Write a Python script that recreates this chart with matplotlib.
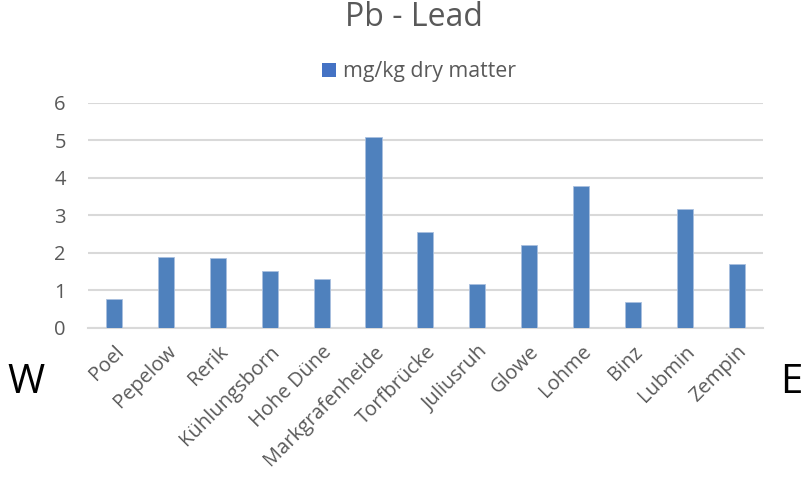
import matplotlib.pyplot as plt
from matplotlib.patches import Patch

# Standorte von West nach Ost
sites = ['Poel', 'Pepelow', 'Rerik', 'Kühlungsborn', 'Hohe Düne', 'Markgrafenheide',
         'Torfbrücke', 'Juliusruh', 'Glowe', 'Lohme', 'Binz', 'Lubmin', 'Zempin']
lead = [0.78, 1.88, 1.85, 1.51, 1.30, 5.08, 2.55, 1.18, 2.20, 3.78, 0.68, 3.18, 1.70]
yticks = [0, 1, 2, 3, 4, 5, 6]

bar_color = '#4f81bd'
text_grey = '#595959'
plt.rcParams['font.family'] = ['Open Sans', 'DejaVu Sans']

fig = plt.figure(figsize=(8.03, 4.8), dpi=100)
ax = fig.add_axes([0.1096, 0.317, 0.8404, 0.469])

x = range(len(sites))
ax.bar(x, lead, width=0.31, color=bar_color, edgecolor='#a9c0df', linewidth=0.6, zorder=3)

ax.set_xlim(-0.5, len(sites) - 0.5)
ax.set_ylim(0, 6)
ax.set_yticks(yticks)
ax.set_yticklabels([str(t) for t in yticks], fontsize=14.5, color=text_grey)
ax.yaxis.grid(True, color='#d9d9d9', linewidth=1.5, zorder=0)
ax.tick_params(axis='both', length=0)
ax.tick_params(axis='y', pad=16)

ax.set_xticks(list(x))
ax.set_xticklabels(sites, rotation=45, ha='right', rotation_mode='anchor',
                   fontsize=14.5, color=text_grey)
ax.tick_params(axis='x', pad=10)

for s in ['top', 'right', 'left']:
    ax.spines[s].set_visible(False)
ax.spines['bottom'].set_color('#d9d9d9')
ax.spines['bottom'].set_linewidth(1.5)

fig.text(0.516, 0.963, 'Pb - Lead', ha='center', va='center', fontsize=23, color=text_grey)

handle = [Patch(facecolor='#4472c4', edgecolor='none', label='mg/kg dry matter')]
fig.legend(handles=handle, loc='center', bbox_to_anchor=(0.522, 0.85), frameon=False,
           fontsize=15.3, labelcolor=text_grey, handlelength=0.65, handleheight=0.65,
           handletextpad=0.35)

fig.text(0.032, 0.202, 'W', ha='center', va='center', fontsize=29, color='black')
fig.text(0.985, 0.202, 'E', ha='center', va='center', fontsize=29, color='black')

plt.savefig('out.png', dpi=100)
